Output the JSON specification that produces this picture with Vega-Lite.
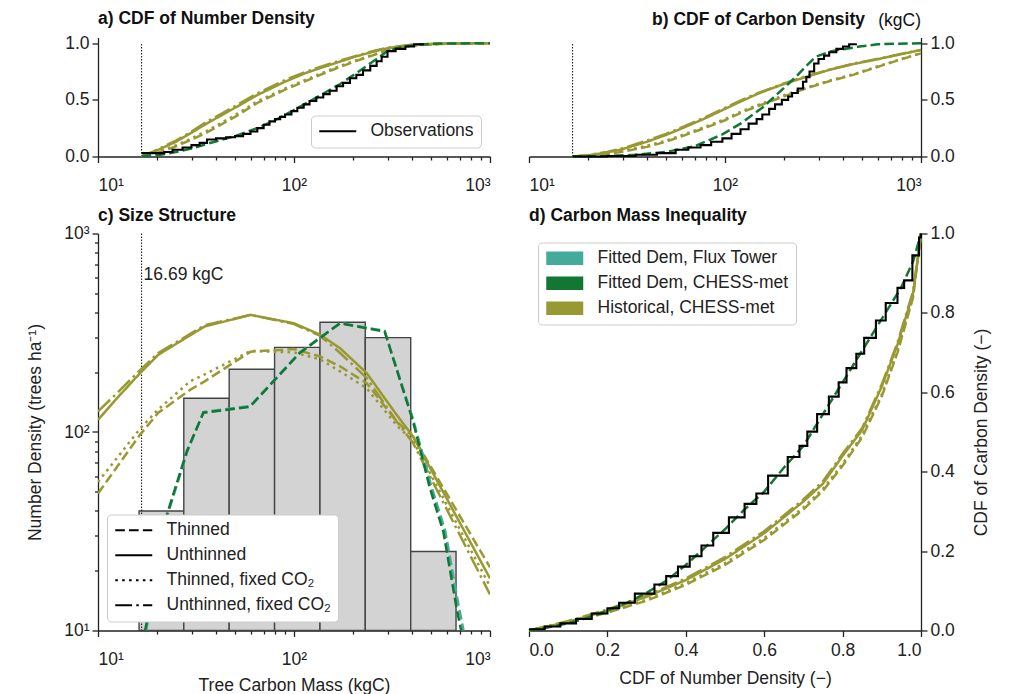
{
  "$schema": "https://vega.github.io/schema/vega-lite/v6.json",
  "padding": {"left": 26, "top": 9.5, "right": 5, "bottom": 2},
  "bounds": "flush",
  "columns": 2,
  "spacing": {"row": 77, "column": 39},
  "resolve": {"legend": {"color": "independent", "strokeDash": "independent"}},
  "config": {
    "font": "Liberation Sans",
    "view": {"stroke": null},
    "axis": {"domainColor": "#222", "domainWidth": 1.3, "tickColor": "#222", "tickWidth": 1.3, "tickSize": 6, "labelFontSize": 17.5, "labelColor": "#222", "labelFont": "Liberation Sans", "titleFont": "Liberation Sans", "titleFontSize": 17.5, "titleFontWeight": "normal", "titleColor": "#222", "grid": false, "labelPadding": 4},
    "legend": {"labelFontSize": 17.5, "labelColor": "#222", "labelFont": "Liberation Sans", "labelLimit": 400, "strokeColor": "#cccccc", "fillColor": "white", "cornerRadius": 4, "padding": 7, "rowPadding": 6, "labelOffset": 24, "symbolOffset": 11},
    "title": {"fontSize": 17.5, "fontWeight": "bold", "font": "Liberation Sans", "color": "#111", "anchor": "start", "baseline": "alphabetic", "offset": 11.5, "frame": "group"}
  },
  "datasets": {
    "a_lines": [
      {"src": "Historical, CHESS-met", "mgmt": "Unthinned", "x": 16.69, "y": 0},
      {"src": "Historical, CHESS-met", "mgmt": "Unthinned", "x": 19.2, "y": 0.04},
      {"src": "Historical, CHESS-met", "mgmt": "Unthinned", "x": 25, "y": 0.13},
      {"src": "Historical, CHESS-met", "mgmt": "Unthinned", "x": 30, "y": 0.21},
      {"src": "Historical, CHESS-met", "mgmt": "Unthinned", "x": 35.8, "y": 0.29},
      {"src": "Historical, CHESS-met", "mgmt": "Unthinned", "x": 50, "y": 0.43},
      {"src": "Historical, CHESS-met", "mgmt": "Unthinned", "x": 64.6, "y": 0.54},
      {"src": "Historical, CHESS-met", "mgmt": "Unthinned", "x": 90, "y": 0.66},
      {"src": "Historical, CHESS-met", "mgmt": "Unthinned", "x": 116, "y": 0.74},
      {"src": "Historical, CHESS-met", "mgmt": "Unthinned", "x": 160, "y": 0.82},
      {"src": "Historical, CHESS-met", "mgmt": "Unthinned", "x": 209, "y": 0.885},
      {"src": "Historical, CHESS-met", "mgmt": "Unthinned", "x": 260, "y": 0.93},
      {"src": "Historical, CHESS-met", "mgmt": "Unthinned", "x": 309, "y": 0.96},
      {"src": "Historical, CHESS-met", "mgmt": "Unthinned", "x": 400, "y": 0.985},
      {"src": "Historical, CHESS-met", "mgmt": "Unthinned", "x": 600, "y": 0.997},
      {"src": "Historical, CHESS-met", "mgmt": "Unthinned", "x": 1000, "y": 1.0},
      {"src": "Historical, CHESS-met", "mgmt": "Unthinned, fixed CO₂", "x": 16.69, "y": 0},
      {"src": "Historical, CHESS-met", "mgmt": "Unthinned, fixed CO₂", "x": 19.2, "y": 0.045},
      {"src": "Historical, CHESS-met", "mgmt": "Unthinned, fixed CO₂", "x": 25, "y": 0.14},
      {"src": "Historical, CHESS-met", "mgmt": "Unthinned, fixed CO₂", "x": 30, "y": 0.22},
      {"src": "Historical, CHESS-met", "mgmt": "Unthinned, fixed CO₂", "x": 35.8, "y": 0.305},
      {"src": "Historical, CHESS-met", "mgmt": "Unthinned, fixed CO₂", "x": 50, "y": 0.445},
      {"src": "Historical, CHESS-met", "mgmt": "Unthinned, fixed CO₂", "x": 64.6, "y": 0.555},
      {"src": "Historical, CHESS-met", "mgmt": "Unthinned, fixed CO₂", "x": 90, "y": 0.675},
      {"src": "Historical, CHESS-met", "mgmt": "Unthinned, fixed CO₂", "x": 116, "y": 0.75},
      {"src": "Historical, CHESS-met", "mgmt": "Unthinned, fixed CO₂", "x": 160, "y": 0.83},
      {"src": "Historical, CHESS-met", "mgmt": "Unthinned, fixed CO₂", "x": 209, "y": 0.89},
      {"src": "Historical, CHESS-met", "mgmt": "Unthinned, fixed CO₂", "x": 260, "y": 0.935},
      {"src": "Historical, CHESS-met", "mgmt": "Unthinned, fixed CO₂", "x": 309, "y": 0.963},
      {"src": "Historical, CHESS-met", "mgmt": "Unthinned, fixed CO₂", "x": 400, "y": 0.987},
      {"src": "Historical, CHESS-met", "mgmt": "Unthinned, fixed CO₂", "x": 600, "y": 0.997},
      {"src": "Historical, CHESS-met", "mgmt": "Unthinned, fixed CO₂", "x": 1000, "y": 1.0},
      {"src": "Historical, CHESS-met", "mgmt": "Thinned", "x": 16.69, "y": 0},
      {"src": "Historical, CHESS-met", "mgmt": "Thinned", "x": 20, "y": 0.03},
      {"src": "Historical, CHESS-met", "mgmt": "Thinned", "x": 25, "y": 0.09},
      {"src": "Historical, CHESS-met", "mgmt": "Thinned", "x": 30, "y": 0.15},
      {"src": "Historical, CHESS-met", "mgmt": "Thinned", "x": 35.8, "y": 0.21},
      {"src": "Historical, CHESS-met", "mgmt": "Thinned", "x": 50, "y": 0.35},
      {"src": "Historical, CHESS-met", "mgmt": "Thinned", "x": 64.6, "y": 0.47},
      {"src": "Historical, CHESS-met", "mgmt": "Thinned", "x": 90, "y": 0.59},
      {"src": "Historical, CHESS-met", "mgmt": "Thinned", "x": 116, "y": 0.67},
      {"src": "Historical, CHESS-met", "mgmt": "Thinned", "x": 160, "y": 0.77},
      {"src": "Historical, CHESS-met", "mgmt": "Thinned", "x": 209, "y": 0.845},
      {"src": "Historical, CHESS-met", "mgmt": "Thinned", "x": 260, "y": 0.9},
      {"src": "Historical, CHESS-met", "mgmt": "Thinned", "x": 309, "y": 0.945},
      {"src": "Historical, CHESS-met", "mgmt": "Thinned", "x": 400, "y": 0.98},
      {"src": "Historical, CHESS-met", "mgmt": "Thinned", "x": 600, "y": 0.995},
      {"src": "Historical, CHESS-met", "mgmt": "Thinned", "x": 1000, "y": 1.0},
      {"src": "Historical, CHESS-met", "mgmt": "Thinned, fixed CO₂", "x": 16.69, "y": 0},
      {"src": "Historical, CHESS-met", "mgmt": "Thinned, fixed CO₂", "x": 20, "y": 0.035},
      {"src": "Historical, CHESS-met", "mgmt": "Thinned, fixed CO₂", "x": 25, "y": 0.1},
      {"src": "Historical, CHESS-met", "mgmt": "Thinned, fixed CO₂", "x": 30, "y": 0.16},
      {"src": "Historical, CHESS-met", "mgmt": "Thinned, fixed CO₂", "x": 35.8, "y": 0.225},
      {"src": "Historical, CHESS-met", "mgmt": "Thinned, fixed CO₂", "x": 50, "y": 0.365},
      {"src": "Historical, CHESS-met", "mgmt": "Thinned, fixed CO₂", "x": 64.6, "y": 0.485},
      {"src": "Historical, CHESS-met", "mgmt": "Thinned, fixed CO₂", "x": 90, "y": 0.6},
      {"src": "Historical, CHESS-met", "mgmt": "Thinned, fixed CO₂", "x": 116, "y": 0.68},
      {"src": "Historical, CHESS-met", "mgmt": "Thinned, fixed CO₂", "x": 160, "y": 0.78},
      {"src": "Historical, CHESS-met", "mgmt": "Thinned, fixed CO₂", "x": 209, "y": 0.85},
      {"src": "Historical, CHESS-met", "mgmt": "Thinned, fixed CO₂", "x": 260, "y": 0.905},
      {"src": "Historical, CHESS-met", "mgmt": "Thinned, fixed CO₂", "x": 309, "y": 0.948},
      {"src": "Historical, CHESS-met", "mgmt": "Thinned, fixed CO₂", "x": 400, "y": 0.981},
      {"src": "Historical, CHESS-met", "mgmt": "Thinned, fixed CO₂", "x": 600, "y": 0.995},
      {"src": "Historical, CHESS-met", "mgmt": "Thinned, fixed CO₂", "x": 1000, "y": 1.0},
      {"src": "Fitted Dem, CHESS-met", "mgmt": "Thinned", "x": 16.69, "y": 0},
      {"src": "Fitted Dem, CHESS-met", "mgmt": "Thinned", "x": 20, "y": 0.01},
      {"src": "Fitted Dem, CHESS-met", "mgmt": "Thinned", "x": 25, "y": 0.04},
      {"src": "Fitted Dem, CHESS-met", "mgmt": "Thinned", "x": 30, "y": 0.07},
      {"src": "Fitted Dem, CHESS-met", "mgmt": "Thinned", "x": 35.8, "y": 0.11},
      {"src": "Fitted Dem, CHESS-met", "mgmt": "Thinned", "x": 50, "y": 0.18},
      {"src": "Fitted Dem, CHESS-met", "mgmt": "Thinned", "x": 64.6, "y": 0.25},
      {"src": "Fitted Dem, CHESS-met", "mgmt": "Thinned", "x": 80, "y": 0.32},
      {"src": "Fitted Dem, CHESS-met", "mgmt": "Thinned", "x": 100, "y": 0.41},
      {"src": "Fitted Dem, CHESS-met", "mgmt": "Thinned", "x": 130, "y": 0.52},
      {"src": "Fitted Dem, CHESS-met", "mgmt": "Thinned", "x": 172, "y": 0.64},
      {"src": "Fitted Dem, CHESS-met", "mgmt": "Thinned", "x": 210, "y": 0.74},
      {"src": "Fitted Dem, CHESS-met", "mgmt": "Thinned", "x": 264, "y": 0.86},
      {"src": "Fitted Dem, CHESS-met", "mgmt": "Thinned", "x": 300, "y": 0.93},
      {"src": "Fitted Dem, CHESS-met", "mgmt": "Thinned", "x": 350, "y": 0.965},
      {"src": "Fitted Dem, CHESS-met", "mgmt": "Thinned", "x": 400, "y": 0.98},
      {"src": "Fitted Dem, CHESS-met", "mgmt": "Thinned", "x": 500, "y": 0.995},
      {"src": "Fitted Dem, CHESS-met", "mgmt": "Thinned", "x": 1000, "y": 1.0}
    ],
    "a_obs": [
      {"src": "Observations", "x": 16.69, "y": 0.03}, {"src": "Observations", "x": 21.8, "y": 0.04},
      {"src": "Observations", "x": 24, "y": 0.06}, {"src": "Observations", "x": 27, "y": 0.08},
      {"src": "Observations", "x": 30, "y": 0.1}, {"src": "Observations", "x": 33, "y": 0.12},
      {"src": "Observations", "x": 36, "y": 0.15}, {"src": "Observations", "x": 40, "y": 0.16},
      {"src": "Observations", "x": 45, "y": 0.17}, {"src": "Observations", "x": 50, "y": 0.18},
      {"src": "Observations", "x": 55, "y": 0.2}, {"src": "Observations", "x": 60, "y": 0.22},
      {"src": "Observations", "x": 65, "y": 0.25}, {"src": "Observations", "x": 70, "y": 0.28},
      {"src": "Observations", "x": 75, "y": 0.31}, {"src": "Observations", "x": 80, "y": 0.33},
      {"src": "Observations", "x": 85, "y": 0.35}, {"src": "Observations", "x": 90, "y": 0.37},
      {"src": "Observations", "x": 97, "y": 0.4}, {"src": "Observations", "x": 104, "y": 0.43},
      {"src": "Observations", "x": 112, "y": 0.46}, {"src": "Observations", "x": 120, "y": 0.49},
      {"src": "Observations", "x": 130, "y": 0.52}, {"src": "Observations", "x": 141, "y": 0.55},
      {"src": "Observations", "x": 152, "y": 0.58}, {"src": "Observations", "x": 165, "y": 0.62},
      {"src": "Observations", "x": 178, "y": 0.65}, {"src": "Observations", "x": 193, "y": 0.69},
      {"src": "Observations", "x": 208, "y": 0.72}, {"src": "Observations", "x": 225, "y": 0.76},
      {"src": "Observations", "x": 245, "y": 0.8}, {"src": "Observations", "x": 264, "y": 0.84},
      {"src": "Observations", "x": 280, "y": 0.88}, {"src": "Observations", "x": 300, "y": 0.93},
      {"src": "Observations", "x": 330, "y": 0.95}, {"src": "Observations", "x": 370, "y": 0.97},
      {"src": "Observations", "x": 410, "y": 0.99}, {"src": "Observations", "x": 455, "y": 1.0}
    ],
    "b_lines": [
      {"src": "Historical, CHESS-met", "mgmt": "Unthinned", "x": 16.69, "y": 0},
      {"src": "Historical, CHESS-met", "mgmt": "Unthinned", "x": 20, "y": 0.01},
      {"src": "Historical, CHESS-met", "mgmt": "Unthinned", "x": 25, "y": 0.035},
      {"src": "Historical, CHESS-met", "mgmt": "Unthinned", "x": 30, "y": 0.065},
      {"src": "Historical, CHESS-met", "mgmt": "Unthinned", "x": 40, "y": 0.13},
      {"src": "Historical, CHESS-met", "mgmt": "Unthinned", "x": 50, "y": 0.19},
      {"src": "Historical, CHESS-met", "mgmt": "Unthinned", "x": 60.6, "y": 0.25},
      {"src": "Historical, CHESS-met", "mgmt": "Unthinned", "x": 80, "y": 0.34},
      {"src": "Historical, CHESS-met", "mgmt": "Unthinned", "x": 100, "y": 0.42},
      {"src": "Historical, CHESS-met", "mgmt": "Unthinned", "x": 122, "y": 0.49},
      {"src": "Historical, CHESS-met", "mgmt": "Unthinned", "x": 150, "y": 0.56},
      {"src": "Historical, CHESS-met", "mgmt": "Unthinned", "x": 200, "y": 0.64},
      {"src": "Historical, CHESS-met", "mgmt": "Unthinned", "x": 268, "y": 0.71},
      {"src": "Historical, CHESS-met", "mgmt": "Unthinned", "x": 350, "y": 0.77},
      {"src": "Historical, CHESS-met", "mgmt": "Unthinned", "x": 450, "y": 0.815},
      {"src": "Historical, CHESS-met", "mgmt": "Unthinned", "x": 588, "y": 0.855},
      {"src": "Historical, CHESS-met", "mgmt": "Unthinned", "x": 800, "y": 0.905},
      {"src": "Historical, CHESS-met", "mgmt": "Unthinned", "x": 1000, "y": 0.94},
      {"src": "Historical, CHESS-met", "mgmt": "Unthinned, fixed CO₂", "x": 16.69, "y": 0},
      {"src": "Historical, CHESS-met", "mgmt": "Unthinned, fixed CO₂", "x": 20, "y": 0.012},
      {"src": "Historical, CHESS-met", "mgmt": "Unthinned, fixed CO₂", "x": 25, "y": 0.04},
      {"src": "Historical, CHESS-met", "mgmt": "Unthinned, fixed CO₂", "x": 30, "y": 0.072},
      {"src": "Historical, CHESS-met", "mgmt": "Unthinned, fixed CO₂", "x": 40, "y": 0.14},
      {"src": "Historical, CHESS-met", "mgmt": "Unthinned, fixed CO₂", "x": 50, "y": 0.2},
      {"src": "Historical, CHESS-met", "mgmt": "Unthinned, fixed CO₂", "x": 60.6, "y": 0.26},
      {"src": "Historical, CHESS-met", "mgmt": "Unthinned, fixed CO₂", "x": 80, "y": 0.35},
      {"src": "Historical, CHESS-met", "mgmt": "Unthinned, fixed CO₂", "x": 100, "y": 0.43},
      {"src": "Historical, CHESS-met", "mgmt": "Unthinned, fixed CO₂", "x": 122, "y": 0.5},
      {"src": "Historical, CHESS-met", "mgmt": "Unthinned, fixed CO₂", "x": 150, "y": 0.565},
      {"src": "Historical, CHESS-met", "mgmt": "Unthinned, fixed CO₂", "x": 200, "y": 0.645},
      {"src": "Historical, CHESS-met", "mgmt": "Unthinned, fixed CO₂", "x": 268, "y": 0.715},
      {"src": "Historical, CHESS-met", "mgmt": "Unthinned, fixed CO₂", "x": 350, "y": 0.772},
      {"src": "Historical, CHESS-met", "mgmt": "Unthinned, fixed CO₂", "x": 450, "y": 0.818},
      {"src": "Historical, CHESS-met", "mgmt": "Unthinned, fixed CO₂", "x": 588, "y": 0.858},
      {"src": "Historical, CHESS-met", "mgmt": "Unthinned, fixed CO₂", "x": 800, "y": 0.906},
      {"src": "Historical, CHESS-met", "mgmt": "Unthinned, fixed CO₂", "x": 1000, "y": 0.94},
      {"src": "Historical, CHESS-met", "mgmt": "Thinned", "x": 16.69, "y": 0},
      {"src": "Historical, CHESS-met", "mgmt": "Thinned", "x": 20, "y": 0.005},
      {"src": "Historical, CHESS-met", "mgmt": "Thinned", "x": 25, "y": 0.02},
      {"src": "Historical, CHESS-met", "mgmt": "Thinned", "x": 30, "y": 0.042},
      {"src": "Historical, CHESS-met", "mgmt": "Thinned", "x": 40, "y": 0.085},
      {"src": "Historical, CHESS-met", "mgmt": "Thinned", "x": 50, "y": 0.13},
      {"src": "Historical, CHESS-met", "mgmt": "Thinned", "x": 60.6, "y": 0.18},
      {"src": "Historical, CHESS-met", "mgmt": "Thinned", "x": 80, "y": 0.255},
      {"src": "Historical, CHESS-met", "mgmt": "Thinned", "x": 100, "y": 0.32},
      {"src": "Historical, CHESS-met", "mgmt": "Thinned", "x": 122, "y": 0.39},
      {"src": "Historical, CHESS-met", "mgmt": "Thinned", "x": 150, "y": 0.45},
      {"src": "Historical, CHESS-met", "mgmt": "Thinned", "x": 200, "y": 0.53},
      {"src": "Historical, CHESS-met", "mgmt": "Thinned", "x": 268, "y": 0.61},
      {"src": "Historical, CHESS-met", "mgmt": "Thinned", "x": 350, "y": 0.67},
      {"src": "Historical, CHESS-met", "mgmt": "Thinned", "x": 450, "y": 0.72},
      {"src": "Historical, CHESS-met", "mgmt": "Thinned", "x": 588, "y": 0.785},
      {"src": "Historical, CHESS-met", "mgmt": "Thinned", "x": 800, "y": 0.86},
      {"src": "Historical, CHESS-met", "mgmt": "Thinned", "x": 1000, "y": 0.91},
      {"src": "Historical, CHESS-met", "mgmt": "Thinned, fixed CO₂", "x": 16.69, "y": 0},
      {"src": "Historical, CHESS-met", "mgmt": "Thinned, fixed CO₂", "x": 20, "y": 0.006},
      {"src": "Historical, CHESS-met", "mgmt": "Thinned, fixed CO₂", "x": 25, "y": 0.024},
      {"src": "Historical, CHESS-met", "mgmt": "Thinned, fixed CO₂", "x": 30, "y": 0.048},
      {"src": "Historical, CHESS-met", "mgmt": "Thinned, fixed CO₂", "x": 40, "y": 0.095},
      {"src": "Historical, CHESS-met", "mgmt": "Thinned, fixed CO₂", "x": 50, "y": 0.14},
      {"src": "Historical, CHESS-met", "mgmt": "Thinned, fixed CO₂", "x": 60.6, "y": 0.19},
      {"src": "Historical, CHESS-met", "mgmt": "Thinned, fixed CO₂", "x": 80, "y": 0.265},
      {"src": "Historical, CHESS-met", "mgmt": "Thinned, fixed CO₂", "x": 100, "y": 0.33},
      {"src": "Historical, CHESS-met", "mgmt": "Thinned, fixed CO₂", "x": 122, "y": 0.4},
      {"src": "Historical, CHESS-met", "mgmt": "Thinned, fixed CO₂", "x": 150, "y": 0.46},
      {"src": "Historical, CHESS-met", "mgmt": "Thinned, fixed CO₂", "x": 200, "y": 0.54},
      {"src": "Historical, CHESS-met", "mgmt": "Thinned, fixed CO₂", "x": 268, "y": 0.615},
      {"src": "Historical, CHESS-met", "mgmt": "Thinned, fixed CO₂", "x": 350, "y": 0.675},
      {"src": "Historical, CHESS-met", "mgmt": "Thinned, fixed CO₂", "x": 450, "y": 0.725},
      {"src": "Historical, CHESS-met", "mgmt": "Thinned, fixed CO₂", "x": 588, "y": 0.79},
      {"src": "Historical, CHESS-met", "mgmt": "Thinned, fixed CO₂", "x": 800, "y": 0.862},
      {"src": "Historical, CHESS-met", "mgmt": "Thinned, fixed CO₂", "x": 1000, "y": 0.912},
      {"src": "Fitted Dem, CHESS-met", "mgmt": "Thinned", "x": 16.69, "y": 0},
      {"src": "Fitted Dem, CHESS-met", "mgmt": "Thinned", "x": 25, "y": 0.004},
      {"src": "Fitted Dem, CHESS-met", "mgmt": "Thinned", "x": 35, "y": 0.015},
      {"src": "Fitted Dem, CHESS-met", "mgmt": "Thinned", "x": 50, "y": 0.04},
      {"src": "Fitted Dem, CHESS-met", "mgmt": "Thinned", "x": 70, "y": 0.09},
      {"src": "Fitted Dem, CHESS-met", "mgmt": "Thinned", "x": 97, "y": 0.195},
      {"src": "Fitted Dem, CHESS-met", "mgmt": "Thinned", "x": 120, "y": 0.29},
      {"src": "Fitted Dem, CHESS-met", "mgmt": "Thinned", "x": 155, "y": 0.43},
      {"src": "Fitted Dem, CHESS-met", "mgmt": "Thinned", "x": 190, "y": 0.57},
      {"src": "Fitted Dem, CHESS-met", "mgmt": "Thinned", "x": 229, "y": 0.7},
      {"src": "Fitted Dem, CHESS-met", "mgmt": "Thinned", "x": 260, "y": 0.8},
      {"src": "Fitted Dem, CHESS-met", "mgmt": "Thinned", "x": 290, "y": 0.88},
      {"src": "Fitted Dem, CHESS-met", "mgmt": "Thinned", "x": 350, "y": 0.93},
      {"src": "Fitted Dem, CHESS-met", "mgmt": "Thinned", "x": 485, "y": 0.97},
      {"src": "Fitted Dem, CHESS-met", "mgmt": "Thinned", "x": 600, "y": 0.99},
      {"src": "Fitted Dem, CHESS-met", "mgmt": "Thinned", "x": 1000, "y": 1.0}
    ],
    "b_obs": [
      {"src": "Observations", "x": 16.69, "y": 0}, {"src": "Observations", "x": 25, "y": 0.005},
      {"src": "Observations", "x": 35, "y": 0.015}, {"src": "Observations", "x": 45, "y": 0.03},
      {"src": "Observations", "x": 56, "y": 0.06}, {"src": "Observations", "x": 65, "y": 0.08},
      {"src": "Observations", "x": 75, "y": 0.1}, {"src": "Observations", "x": 85, "y": 0.13},
      {"src": "Observations", "x": 97, "y": 0.16}, {"src": "Observations", "x": 108, "y": 0.2},
      {"src": "Observations", "x": 120, "y": 0.24}, {"src": "Observations", "x": 132, "y": 0.29},
      {"src": "Observations", "x": 145, "y": 0.33}, {"src": "Observations", "x": 155, "y": 0.37},
      {"src": "Observations", "x": 168, "y": 0.42}, {"src": "Observations", "x": 180, "y": 0.46},
      {"src": "Observations", "x": 195, "y": 0.5}, {"src": "Observations", "x": 210, "y": 0.53},
      {"src": "Observations", "x": 220, "y": 0.56}, {"src": "Observations", "x": 235, "y": 0.6},
      {"src": "Observations", "x": 250, "y": 0.66}, {"src": "Observations", "x": 260, "y": 0.7},
      {"src": "Observations", "x": 270, "y": 0.75}, {"src": "Observations", "x": 285, "y": 0.82},
      {"src": "Observations", "x": 300, "y": 0.86}, {"src": "Observations", "x": 320, "y": 0.89},
      {"src": "Observations", "x": 340, "y": 0.92}, {"src": "Observations", "x": 370, "y": 0.95},
      {"src": "Observations", "x": 400, "y": 0.97}, {"src": "Observations", "x": 430, "y": 0.99},
      {"src": "Observations", "x": 465, "y": 1.0}
    ],
    "c_hist": [
      {"lo": 16.2, "hi": 27.4, "n": 40},
      {"lo": 27.4, "hi": 46.7, "n": 148},
      {"lo": 46.7, "hi": 79.6, "n": 207},
      {"lo": 79.6, "hi": 135.7, "n": 267},
      {"lo": 135.7, "hi": 231, "n": 357},
      {"lo": 231, "hi": 394, "n": 299},
      {"lo": 394, "hi": 671, "n": 25}
    ],
    "c_lines": [
      {"src": "Historical, CHESS-met", "mgmt": "Unthinned", "x": 10, "y": 115},
      {"src": "Historical, CHESS-met", "mgmt": "Unthinned", "x": 12.5, "y": 148},
      {"src": "Historical, CHESS-met", "mgmt": "Unthinned", "x": 16.4, "y": 198},
      {"src": "Historical, CHESS-met", "mgmt": "Unthinned", "x": 20.3, "y": 245},
      {"src": "Historical, CHESS-met", "mgmt": "Unthinned", "x": 35, "y": 340},
      {"src": "Historical, CHESS-met", "mgmt": "Unthinned", "x": 60, "y": 389},
      {"src": "Historical, CHESS-met", "mgmt": "Unthinned", "x": 100, "y": 353},
      {"src": "Historical, CHESS-met", "mgmt": "Unthinned", "x": 136, "y": 309},
      {"src": "Historical, CHESS-met", "mgmt": "Unthinned", "x": 172, "y": 264},
      {"src": "Historical, CHESS-met", "mgmt": "Unthinned", "x": 235, "y": 198},
      {"src": "Historical, CHESS-met", "mgmt": "Unthinned", "x": 334, "y": 122},
      {"src": "Historical, CHESS-met", "mgmt": "Unthinned", "x": 405, "y": 95},
      {"src": "Historical, CHESS-met", "mgmt": "Unthinned", "x": 1000, "y": 18.3},
      {"src": "Historical, CHESS-met", "mgmt": "Unthinned, fixed CO₂", "x": 10, "y": 127},
      {"src": "Historical, CHESS-met", "mgmt": "Unthinned, fixed CO₂", "x": 12.5, "y": 157},
      {"src": "Historical, CHESS-met", "mgmt": "Unthinned, fixed CO₂", "x": 16.4, "y": 205},
      {"src": "Historical, CHESS-met", "mgmt": "Unthinned, fixed CO₂", "x": 20.3, "y": 250},
      {"src": "Historical, CHESS-met", "mgmt": "Unthinned, fixed CO₂", "x": 35, "y": 345},
      {"src": "Historical, CHESS-met", "mgmt": "Unthinned, fixed CO₂", "x": 60, "y": 389},
      {"src": "Historical, CHESS-met", "mgmt": "Unthinned, fixed CO₂", "x": 100, "y": 350},
      {"src": "Historical, CHESS-met", "mgmt": "Unthinned, fixed CO₂", "x": 136, "y": 305},
      {"src": "Historical, CHESS-met", "mgmt": "Unthinned, fixed CO₂", "x": 172, "y": 250},
      {"src": "Historical, CHESS-met", "mgmt": "Unthinned, fixed CO₂", "x": 235, "y": 187},
      {"src": "Historical, CHESS-met", "mgmt": "Unthinned, fixed CO₂", "x": 334, "y": 113},
      {"src": "Historical, CHESS-met", "mgmt": "Unthinned, fixed CO₂", "x": 405, "y": 88},
      {"src": "Historical, CHESS-met", "mgmt": "Unthinned, fixed CO₂", "x": 1000, "y": 15.2},
      {"src": "Historical, CHESS-met", "mgmt": "Thinned", "x": 10, "y": 49},
      {"src": "Historical, CHESS-met", "mgmt": "Thinned", "x": 16.4, "y": 97},
      {"src": "Historical, CHESS-met", "mgmt": "Thinned", "x": 20.3, "y": 125},
      {"src": "Historical, CHESS-met", "mgmt": "Thinned", "x": 29.5, "y": 163},
      {"src": "Historical, CHESS-met", "mgmt": "Thinned", "x": 35, "y": 180},
      {"src": "Historical, CHESS-met", "mgmt": "Thinned", "x": 60, "y": 254},
      {"src": "Historical, CHESS-met", "mgmt": "Thinned", "x": 100, "y": 262},
      {"src": "Historical, CHESS-met", "mgmt": "Thinned", "x": 136, "y": 240},
      {"src": "Historical, CHESS-met", "mgmt": "Thinned", "x": 172, "y": 214},
      {"src": "Historical, CHESS-met", "mgmt": "Thinned", "x": 235, "y": 176},
      {"src": "Historical, CHESS-met", "mgmt": "Thinned", "x": 334, "y": 113},
      {"src": "Historical, CHESS-met", "mgmt": "Thinned", "x": 405, "y": 95},
      {"src": "Historical, CHESS-met", "mgmt": "Thinned", "x": 1000, "y": 20.8},
      {"src": "Historical, CHESS-met", "mgmt": "Thinned, fixed CO₂", "x": 10, "y": 56},
      {"src": "Historical, CHESS-met", "mgmt": "Thinned, fixed CO₂", "x": 16.4, "y": 104},
      {"src": "Historical, CHESS-met", "mgmt": "Thinned, fixed CO₂", "x": 20.3, "y": 130},
      {"src": "Historical, CHESS-met", "mgmt": "Thinned, fixed CO₂", "x": 29.5, "y": 180},
      {"src": "Historical, CHESS-met", "mgmt": "Thinned, fixed CO₂", "x": 35, "y": 195},
      {"src": "Historical, CHESS-met", "mgmt": "Thinned, fixed CO₂", "x": 60, "y": 256},
      {"src": "Historical, CHESS-met", "mgmt": "Thinned, fixed CO₂", "x": 100, "y": 252},
      {"src": "Historical, CHESS-met", "mgmt": "Thinned, fixed CO₂", "x": 136, "y": 232},
      {"src": "Historical, CHESS-met", "mgmt": "Thinned, fixed CO₂", "x": 172, "y": 202},
      {"src": "Historical, CHESS-met", "mgmt": "Thinned, fixed CO₂", "x": 235, "y": 166},
      {"src": "Historical, CHESS-met", "mgmt": "Thinned, fixed CO₂", "x": 334, "y": 108},
      {"src": "Historical, CHESS-met", "mgmt": "Thinned, fixed CO₂", "x": 405, "y": 90},
      {"src": "Historical, CHESS-met", "mgmt": "Thinned, fixed CO₂", "x": 1000, "y": 16.7},
      {"src": "Fitted Dem, Flux Tower", "mgmt": "Thinned", "x": 17.6, "y": 10},
      {"src": "Fitted Dem, Flux Tower", "mgmt": "Thinned", "x": 22.6, "y": 38},
      {"src": "Fitted Dem, Flux Tower", "mgmt": "Thinned", "x": 28.6, "y": 80},
      {"src": "Fitted Dem, Flux Tower", "mgmt": "Thinned", "x": 34.5, "y": 126},
      {"src": "Fitted Dem, Flux Tower", "mgmt": "Thinned", "x": 59.6, "y": 135},
      {"src": "Fitted Dem, Flux Tower", "mgmt": "Thinned", "x": 107, "y": 252},
      {"src": "Fitted Dem, Flux Tower", "mgmt": "Thinned", "x": 172, "y": 355},
      {"src": "Fitted Dem, Flux Tower", "mgmt": "Thinned", "x": 290, "y": 323},
      {"src": "Fitted Dem, Flux Tower", "mgmt": "Thinned", "x": 405, "y": 116},
      {"src": "Fitted Dem, Flux Tower", "mgmt": "Thinned", "x": 500, "y": 54},
      {"src": "Fitted Dem, Flux Tower", "mgmt": "Thinned", "x": 590, "y": 32},
      {"src": "Fitted Dem, Flux Tower", "mgmt": "Thinned", "x": 690, "y": 13.5},
      {"src": "Fitted Dem, Flux Tower", "mgmt": "Thinned", "x": 740, "y": 9.5},
      {"src": "Fitted Dem, CHESS-met", "mgmt": "Thinned", "x": 17.4, "y": 10},
      {"src": "Fitted Dem, CHESS-met", "mgmt": "Thinned", "x": 22.4, "y": 38},
      {"src": "Fitted Dem, CHESS-met", "mgmt": "Thinned", "x": 28.4, "y": 80},
      {"src": "Fitted Dem, CHESS-met", "mgmt": "Thinned", "x": 34.5, "y": 125},
      {"src": "Fitted Dem, CHESS-met", "mgmt": "Thinned", "x": 59.6, "y": 134},
      {"src": "Fitted Dem, CHESS-met", "mgmt": "Thinned", "x": 107, "y": 250},
      {"src": "Fitted Dem, CHESS-met", "mgmt": "Thinned", "x": 172, "y": 353},
      {"src": "Fitted Dem, CHESS-met", "mgmt": "Thinned", "x": 290, "y": 321},
      {"src": "Fitted Dem, CHESS-met", "mgmt": "Thinned", "x": 405, "y": 113},
      {"src": "Fitted Dem, CHESS-met", "mgmt": "Thinned", "x": 494, "y": 52},
      {"src": "Fitted Dem, CHESS-met", "mgmt": "Thinned", "x": 578, "y": 31.5},
      {"src": "Fitted Dem, CHESS-met", "mgmt": "Thinned", "x": 676, "y": 12.9},
      {"src": "Fitted Dem, CHESS-met", "mgmt": "Thinned", "x": 720, "y": 9.5}
    ],
    "d_lines": [
      {"src": "Historical, CHESS-met", "mgmt": "Unthinned", "x": 0, "y": 0},
      {"src": "Historical, CHESS-met", "mgmt": "Unthinned", "x": 0.1, "y": 0.022},
      {"src": "Historical, CHESS-met", "mgmt": "Unthinned", "x": 0.2, "y": 0.05},
      {"src": "Historical, CHESS-met", "mgmt": "Unthinned", "x": 0.3, "y": 0.085},
      {"src": "Historical, CHESS-met", "mgmt": "Unthinned", "x": 0.4, "y": 0.127},
      {"src": "Historical, CHESS-met", "mgmt": "Unthinned", "x": 0.5, "y": 0.18},
      {"src": "Historical, CHESS-met", "mgmt": "Unthinned", "x": 0.6, "y": 0.245},
      {"src": "Historical, CHESS-met", "mgmt": "Unthinned", "x": 0.7, "y": 0.325},
      {"src": "Historical, CHESS-met", "mgmt": "Unthinned", "x": 0.75, "y": 0.37},
      {"src": "Historical, CHESS-met", "mgmt": "Unthinned", "x": 0.8, "y": 0.44},
      {"src": "Historical, CHESS-met", "mgmt": "Unthinned", "x": 0.85, "y": 0.505},
      {"src": "Historical, CHESS-met", "mgmt": "Unthinned", "x": 0.9, "y": 0.615},
      {"src": "Historical, CHESS-met", "mgmt": "Unthinned", "x": 0.94, "y": 0.72},
      {"src": "Historical, CHESS-met", "mgmt": "Unthinned", "x": 0.96, "y": 0.785},
      {"src": "Historical, CHESS-met", "mgmt": "Unthinned", "x": 0.98, "y": 0.85},
      {"src": "Historical, CHESS-met", "mgmt": "Unthinned", "x": 1, "y": 1},
      {"src": "Historical, CHESS-met", "mgmt": "Unthinned, fixed CO₂", "x": 0, "y": 0},
      {"src": "Historical, CHESS-met", "mgmt": "Unthinned, fixed CO₂", "x": 0.1, "y": 0.024},
      {"src": "Historical, CHESS-met", "mgmt": "Unthinned, fixed CO₂", "x": 0.2, "y": 0.053},
      {"src": "Historical, CHESS-met", "mgmt": "Unthinned, fixed CO₂", "x": 0.3, "y": 0.088},
      {"src": "Historical, CHESS-met", "mgmt": "Unthinned, fixed CO₂", "x": 0.4, "y": 0.131},
      {"src": "Historical, CHESS-met", "mgmt": "Unthinned, fixed CO₂", "x": 0.5, "y": 0.185},
      {"src": "Historical, CHESS-met", "mgmt": "Unthinned, fixed CO₂", "x": 0.6, "y": 0.25},
      {"src": "Historical, CHESS-met", "mgmt": "Unthinned, fixed CO₂", "x": 0.7, "y": 0.33},
      {"src": "Historical, CHESS-met", "mgmt": "Unthinned, fixed CO₂", "x": 0.75, "y": 0.376},
      {"src": "Historical, CHESS-met", "mgmt": "Unthinned, fixed CO₂", "x": 0.8, "y": 0.445},
      {"src": "Historical, CHESS-met", "mgmt": "Unthinned, fixed CO₂", "x": 0.85, "y": 0.51},
      {"src": "Historical, CHESS-met", "mgmt": "Unthinned, fixed CO₂", "x": 0.9, "y": 0.62},
      {"src": "Historical, CHESS-met", "mgmt": "Unthinned, fixed CO₂", "x": 0.94, "y": 0.725},
      {"src": "Historical, CHESS-met", "mgmt": "Unthinned, fixed CO₂", "x": 0.96, "y": 0.79},
      {"src": "Historical, CHESS-met", "mgmt": "Unthinned, fixed CO₂", "x": 0.98, "y": 0.855},
      {"src": "Historical, CHESS-met", "mgmt": "Unthinned, fixed CO₂", "x": 1, "y": 1},
      {"src": "Historical, CHESS-met", "mgmt": "Thinned", "x": 0, "y": 0},
      {"src": "Historical, CHESS-met", "mgmt": "Thinned", "x": 0.1, "y": 0.02},
      {"src": "Historical, CHESS-met", "mgmt": "Thinned", "x": 0.2, "y": 0.045},
      {"src": "Historical, CHESS-met", "mgmt": "Thinned", "x": 0.3, "y": 0.075},
      {"src": "Historical, CHESS-met", "mgmt": "Thinned", "x": 0.4, "y": 0.115},
      {"src": "Historical, CHESS-met", "mgmt": "Thinned", "x": 0.5, "y": 0.165},
      {"src": "Historical, CHESS-met", "mgmt": "Thinned", "x": 0.6, "y": 0.228},
      {"src": "Historical, CHESS-met", "mgmt": "Thinned", "x": 0.7, "y": 0.305},
      {"src": "Historical, CHESS-met", "mgmt": "Thinned", "x": 0.75, "y": 0.352},
      {"src": "Historical, CHESS-met", "mgmt": "Thinned", "x": 0.8, "y": 0.415},
      {"src": "Historical, CHESS-met", "mgmt": "Thinned", "x": 0.85, "y": 0.487},
      {"src": "Historical, CHESS-met", "mgmt": "Thinned", "x": 0.9, "y": 0.59},
      {"src": "Historical, CHESS-met", "mgmt": "Thinned", "x": 0.94, "y": 0.7},
      {"src": "Historical, CHESS-met", "mgmt": "Thinned", "x": 0.96, "y": 0.77},
      {"src": "Historical, CHESS-met", "mgmt": "Thinned", "x": 0.98, "y": 0.84},
      {"src": "Historical, CHESS-met", "mgmt": "Thinned", "x": 1, "y": 1},
      {"src": "Historical, CHESS-met", "mgmt": "Thinned, fixed CO₂", "x": 0, "y": 0},
      {"src": "Historical, CHESS-met", "mgmt": "Thinned, fixed CO₂", "x": 0.1, "y": 0.021},
      {"src": "Historical, CHESS-met", "mgmt": "Thinned, fixed CO₂", "x": 0.2, "y": 0.047},
      {"src": "Historical, CHESS-met", "mgmt": "Thinned, fixed CO₂", "x": 0.3, "y": 0.078},
      {"src": "Historical, CHESS-met", "mgmt": "Thinned, fixed CO₂", "x": 0.4, "y": 0.119},
      {"src": "Historical, CHESS-met", "mgmt": "Thinned, fixed CO₂", "x": 0.5, "y": 0.17},
      {"src": "Historical, CHESS-met", "mgmt": "Thinned, fixed CO₂", "x": 0.6, "y": 0.233},
      {"src": "Historical, CHESS-met", "mgmt": "Thinned, fixed CO₂", "x": 0.7, "y": 0.31},
      {"src": "Historical, CHESS-met", "mgmt": "Thinned, fixed CO₂", "x": 0.75, "y": 0.357},
      {"src": "Historical, CHESS-met", "mgmt": "Thinned, fixed CO₂", "x": 0.8, "y": 0.42},
      {"src": "Historical, CHESS-met", "mgmt": "Thinned, fixed CO₂", "x": 0.85, "y": 0.492},
      {"src": "Historical, CHESS-met", "mgmt": "Thinned, fixed CO₂", "x": 0.9, "y": 0.595},
      {"src": "Historical, CHESS-met", "mgmt": "Thinned, fixed CO₂", "x": 0.94, "y": 0.705},
      {"src": "Historical, CHESS-met", "mgmt": "Thinned, fixed CO₂", "x": 0.96, "y": 0.775},
      {"src": "Historical, CHESS-met", "mgmt": "Thinned, fixed CO₂", "x": 0.98, "y": 0.845},
      {"src": "Historical, CHESS-met", "mgmt": "Thinned, fixed CO₂", "x": 1, "y": 1},
      {"src": "Fitted Dem, CHESS-met", "mgmt": "Thinned", "x": 0, "y": 0},
      {"src": "Fitted Dem, CHESS-met", "mgmt": "Thinned", "x": 0.05, "y": 0.008},
      {"src": "Fitted Dem, CHESS-met", "mgmt": "Thinned", "x": 0.1, "y": 0.018},
      {"src": "Fitted Dem, CHESS-met", "mgmt": "Thinned", "x": 0.15, "y": 0.032},
      {"src": "Fitted Dem, CHESS-met", "mgmt": "Thinned", "x": 0.2, "y": 0.05},
      {"src": "Fitted Dem, CHESS-met", "mgmt": "Thinned", "x": 0.25, "y": 0.07},
      {"src": "Fitted Dem, CHESS-met", "mgmt": "Thinned", "x": 0.3, "y": 0.095},
      {"src": "Fitted Dem, CHESS-met", "mgmt": "Thinned", "x": 0.35, "y": 0.125},
      {"src": "Fitted Dem, CHESS-met", "mgmt": "Thinned", "x": 0.4, "y": 0.165},
      {"src": "Fitted Dem, CHESS-met", "mgmt": "Thinned", "x": 0.45, "y": 0.21},
      {"src": "Fitted Dem, CHESS-met", "mgmt": "Thinned", "x": 0.5, "y": 0.255},
      {"src": "Fitted Dem, CHESS-met", "mgmt": "Thinned", "x": 0.55, "y": 0.305},
      {"src": "Fitted Dem, CHESS-met", "mgmt": "Thinned", "x": 0.6, "y": 0.35},
      {"src": "Fitted Dem, CHESS-met", "mgmt": "Thinned", "x": 0.65, "y": 0.41},
      {"src": "Fitted Dem, CHESS-met", "mgmt": "Thinned", "x": 0.7, "y": 0.465},
      {"src": "Fitted Dem, CHESS-met", "mgmt": "Thinned", "x": 0.75, "y": 0.545},
      {"src": "Fitted Dem, CHESS-met", "mgmt": "Thinned", "x": 0.8, "y": 0.625},
      {"src": "Fitted Dem, CHESS-met", "mgmt": "Thinned", "x": 0.85, "y": 0.705},
      {"src": "Fitted Dem, CHESS-met", "mgmt": "Thinned", "x": 0.9, "y": 0.785},
      {"src": "Fitted Dem, CHESS-met", "mgmt": "Thinned", "x": 0.95, "y": 0.865},
      {"src": "Fitted Dem, CHESS-met", "mgmt": "Thinned", "x": 0.98, "y": 0.93},
      {"src": "Fitted Dem, CHESS-met", "mgmt": "Thinned", "x": 1, "y": 1}
    ],
    "d_obs": [
      {"src": "Observations", "x": 0, "y": 0.003}, {"src": "Observations", "x": 0.04, "y": 0.01},
      {"src": "Observations", "x": 0.08, "y": 0.018}, {"src": "Observations", "x": 0.12, "y": 0.029},
      {"src": "Observations", "x": 0.16, "y": 0.043}, {"src": "Observations", "x": 0.2, "y": 0.056},
      {"src": "Observations", "x": 0.23, "y": 0.07}, {"src": "Observations", "x": 0.27, "y": 0.093},
      {"src": "Observations", "x": 0.32, "y": 0.116}, {"src": "Observations", "x": 0.35, "y": 0.137},
      {"src": "Observations", "x": 0.38, "y": 0.161}, {"src": "Observations", "x": 0.41, "y": 0.187},
      {"src": "Observations", "x": 0.44, "y": 0.214}, {"src": "Observations", "x": 0.47, "y": 0.246},
      {"src": "Observations", "x": 0.51, "y": 0.285}, {"src": "Observations", "x": 0.55, "y": 0.319},
      {"src": "Observations", "x": 0.58, "y": 0.345}, {"src": "Observations", "x": 0.61, "y": 0.39},
      {"src": "Observations", "x": 0.66, "y": 0.437}, {"src": "Observations", "x": 0.69, "y": 0.465},
      {"src": "Observations", "x": 0.71, "y": 0.501}, {"src": "Observations", "x": 0.735, "y": 0.545},
      {"src": "Observations", "x": 0.765, "y": 0.589}, {"src": "Observations", "x": 0.79, "y": 0.625},
      {"src": "Observations", "x": 0.81, "y": 0.661}, {"src": "Observations", "x": 0.835, "y": 0.697},
      {"src": "Observations", "x": 0.855, "y": 0.737}, {"src": "Observations", "x": 0.885, "y": 0.781},
      {"src": "Observations", "x": 0.91, "y": 0.825}, {"src": "Observations", "x": 0.94, "y": 0.863},
      {"src": "Observations", "x": 0.957, "y": 0.882}, {"src": "Observations", "x": 0.978, "y": 0.945},
      {"src": "Observations", "x": 0.995, "y": 0.99}, {"src": "Observations", "x": 1.0, "y": 1.0}
    ]
  },
  "concat": [
    {
      "width": 392, "height": 119,
      "title": {"text": "a) CDF of Number Density", "frame": "group", "anchor": "start", "dy": 4.5},
      "layer": [
        {
          "data": {"values": [{}]},
          "mark": {"type": "rule", "strokeDash": [1.5, 1.5], "strokeWidth": 1, "color": "#111"},
          "encoding": {
            "x": {"datum": 16.69, "type": "quantitative", "scale": {"type": "log", "domain": [10, 1000], "nice": false},
              "axis": {"title": null, "values": [10, 20, 30, 40, 50, 60, 70, 80, 90, 100, 200, 300, 400, 500, 600, 700, 800, 900, 1000], "labelExpr": "datum.value == 10 ? '10¹' : datum.value == 100 ? '10²' : datum.value == 1000 ? '10³' : ''", "tickSize": {"condition": {"test": "datum.value == 10 || datum.value == 100 || datum.value == 1000", "value": 6}, "value": 3.5}, "labelPadding": 14, "labelOverlap": false}},
            "y": {"datum": 0, "type": "quantitative", "scale": {"domain": [0, 1.05], "nice": false, "zero": false},
              "axis": {"title": null, "values": [0, 0.5, 1], "format": ".1f", "labelPadding": 3}},
            "y2": {"datum": 1.0}
          }
        },
        {
          "data": {"name": "a_lines"},
          "mark": {"type": "line", "strokeWidth": 2.5},
          "encoding": {
            "x": {"field": "x", "type": "quantitative", "scale": {"type": "log", "domain": [10, 1000], "nice": false}},
            "y": {"field": "y", "type": "quantitative", "scale": {"domain": [0, 1.05], "nice": false, "zero": false}},
            "color": {"field": "src", "type": "nominal", "scale": {"domain": ["Fitted Dem, Flux Tower", "Fitted Dem, CHESS-met", "Historical, CHESS-met", "Observations"], "range": ["#44AA99", "#117733", "#999933", "#000000"]},
              "legend": {"values": ["Observations"], "orient": "bottom-right", "offset": 9, "title": null, "symbolType": "M-2.5,0H2.5", "symbolSize": 219, "symbolStrokeWidth": 2.2}},
            "strokeDash": {"field": "mgmt", "type": "nominal", "scale": {"domain": ["Thinned", "Unthinned", "Thinned, fixed CO₂", "Unthinned, fixed CO₂"], "range": [[9.6, 4.2], [1, 0], [2.6, 4.3], [16.8, 4.2, 2.6, 4.2]]}, "legend": null}
          }
        },
        {
          "data": {"name": "a_obs"},
          "mark": {"type": "line", "strokeWidth": 2.1, "interpolate": "step-after"},
          "encoding": {
            "x": {"field": "x", "type": "quantitative", "scale": {"type": "log", "domain": [10, 1000], "nice": false}},
            "y": {"field": "y", "type": "quantitative", "scale": {"domain": [0, 1.05], "nice": false, "zero": false}},
            "color": {"field": "src", "type": "nominal", "scale": {"domain": ["Fitted Dem, Flux Tower", "Fitted Dem, CHESS-met", "Historical, CHESS-met", "Observations"], "range": ["#44AA99", "#117733", "#999933", "#000000"]},
              "legend": {"values": ["Observations"], "orient": "bottom-right", "offset": 9, "title": null, "symbolType": "M-2.5,0H2.5", "symbolSize": 219, "symbolStrokeWidth": 2.2}}
          }
        }
      ]
    },
    {
      "width": 392, "height": 119,
      "title": {"text": "b) CDF of Carbon Density", "anchor": "end", "dx": -56, "dy": 28, "frame": "group"},
      "layer": [
        {
          "data": {"values": [{}]},
          "mark": {"type": "rule", "strokeDash": [1.5, 1.5], "strokeWidth": 1, "color": "#111"},
          "encoding": {
            "x": {"datum": 16.69, "type": "quantitative", "scale": {"type": "log", "domain": [10, 1000], "nice": false},
              "axis": {"title": null, "values": [10, 20, 30, 40, 50, 60, 70, 80, 90, 100, 200, 300, 400, 500, 600, 700, 800, 900, 1000], "labelExpr": "datum.value == 10 ? '10¹' : datum.value == 100 ? '10²' : datum.value == 1000 ? '10³' : ''", "tickSize": {"condition": {"test": "datum.value == 10 || datum.value == 100 || datum.value == 1000", "value": 6}, "value": 3.5}, "labelPadding": 14, "labelOverlap": false}},
            "y": {"datum": 0, "type": "quantitative", "scale": {"domain": [0, 1.05], "nice": false, "zero": false},
              "axis": {"title": null, "orient": "right", "values": [0, 0.5, 1], "format": ".1f", "labelPadding": 3}},
            "y2": {"datum": 1.0}
          }
        },
        {
          "data": {"values": [{}]},
          "mark": {"type": "text", "align": "right", "baseline": "alphabetic", "dy": -11.5, "fontSize": 17.5, "color": "#111"},
          "encoding": {
            "x": {"datum": 1000, "type": "quantitative", "scale": {"type": "log", "domain": [10, 1000], "nice": false}},
            "y": {"datum": 1.05, "type": "quantitative", "scale": {"domain": [0, 1.05], "nice": false, "zero": false}},
            "text": {"value": "(kgC)"}
          }
        },
        {
          "data": {"name": "b_lines"},
          "mark": {"type": "line", "strokeWidth": 2.5},
          "encoding": {
            "x": {"field": "x", "type": "quantitative", "scale": {"type": "log", "domain": [10, 1000], "nice": false}},
            "y": {"field": "y", "type": "quantitative", "scale": {"domain": [0, 1.05], "nice": false, "zero": false}},
            "color": {"field": "src", "type": "nominal", "scale": {"domain": ["Fitted Dem, Flux Tower", "Fitted Dem, CHESS-met", "Historical, CHESS-met", "Observations"], "range": ["#44AA99", "#117733", "#999933", "#000000"]}, "legend": null},
            "strokeDash": {"field": "mgmt", "type": "nominal", "scale": {"domain": ["Thinned", "Unthinned", "Thinned, fixed CO₂", "Unthinned, fixed CO₂"], "range": [[9.6, 4.2], [1, 0], [2.6, 4.3], [16.8, 4.2, 2.6, 4.2]]}, "legend": null}
          }
        },
        {
          "data": {"name": "b_obs"},
          "mark": {"type": "line", "strokeWidth": 2.1, "interpolate": "step-after", "color": "#000000"},
          "encoding": {
            "x": {"field": "x", "type": "quantitative", "scale": {"type": "log", "domain": [10, 1000], "nice": false}},
            "y": {"field": "y", "type": "quantitative", "scale": {"domain": [0, 1.05], "nice": false, "zero": false}}
          }
        }
      ]
    },
    {
      "width": 392, "height": 397,
      "title": {"text": "c) Size Structure", "frame": "group", "anchor": "start", "dy": 11},
      "layer": [
        {
          "data": {"name": "c_hist"},
          "mark": {"type": "rect", "fill": "#d3d3d3", "stroke": "#444444", "strokeWidth": 1.4},
          "encoding": {
            "x": {"field": "lo", "type": "quantitative", "scale": {"type": "log", "domain": [10, 1000], "nice": false},
              "axis": {"title": "Tree Carbon Mass (kgC)", "values": [10, 20, 30, 40, 50, 60, 70, 80, 90, 100, 200, 300, 400, 500, 600, 700, 800, 900, 1000], "labelExpr": "datum.value == 10 ? '10¹' : datum.value == 100 ? '10²' : datum.value == 1000 ? '10³' : ''", "tickSize": {"condition": {"test": "datum.value == 10 || datum.value == 100 || datum.value == 1000", "value": 6}, "value": 3.5}, "labelPadding": 14, "labelOverlap": false, "titlePadding": 8}},
            "x2": {"field": "hi"},
            "y": {"field": "n", "type": "quantitative", "scale": {"type": "log", "domain": [10, 1000], "nice": false},
              "axis": {"title": "Number Density (trees ha⁻¹)", "values": [10, 20, 30, 40, 50, 60, 70, 80, 90, 100, 200, 300, 400, 500, 600, 700, 800, 900, 1000], "labelExpr": "datum.value == 10 ? '10¹' : datum.value == 100 ? '10²' : datum.value == 1000 ? '10³' : ''", "tickSize": {"condition": {"test": "datum.value == 10 || datum.value == 100 || datum.value == 1000", "value": 6}, "value": 3.5}, "labelPadding": 3, "labelOverlap": false, "titlePadding": 19}},
            "y2": {"datum": 10}
          }
        },
        {
          "data": {"values": [{}]},
          "mark": {"type": "rule", "strokeDash": [1.5, 1.5], "strokeWidth": 1, "color": "#111"},
          "encoding": {
            "x": {"datum": 16.69, "type": "quantitative", "scale": {"type": "log", "domain": [10, 1000], "nice": false}}
          }
        },
        {
          "data": {"values": [{}]},
          "mark": {"type": "text", "align": "left", "baseline": "alphabetic", "dx": 2, "fontSize": 17.5, "color": "#222"},
          "encoding": {
            "x": {"datum": 16.69, "type": "quantitative", "scale": {"type": "log", "domain": [10, 1000], "nice": false}},
            "y": {"datum": 586, "type": "quantitative", "scale": {"type": "log", "domain": [10, 1000], "nice": false}},
            "text": {"value": "16.69 kgC"}
          }
        },
        {
          "data": {"name": "c_lines"},
          "mark": {"type": "line", "strokeWidth": 2.5, "clip": true},
          "encoding": {
            "x": {"field": "x", "type": "quantitative", "scale": {"type": "log", "domain": [10, 1000], "nice": false}},
            "y": {"field": "y", "type": "quantitative", "scale": {"type": "log", "domain": [10, 1000], "nice": false}},
            "color": {"field": "src", "type": "nominal", "scale": {"domain": ["Fitted Dem, Flux Tower", "Fitted Dem, CHESS-met", "Historical, CHESS-met", "Observations"], "range": ["#44AA99", "#117733", "#999933", "#000000"]}, "legend": null},
            "strokeDash": {"field": "mgmt", "type": "nominal", "scale": {"domain": ["Thinned", "Unthinned", "Thinned, fixed CO₂", "Unthinned, fixed CO₂"], "range": [[9.6, 4.2], [1, 0], [2.6, 4.3], [16.8, 4.2, 2.6, 4.2]]},
              "legend": {"orient": "bottom-left", "offset": 9, "title": null, "symbolType": "M-2.5,0H2.5", "symbolSize": 219, "symbolStrokeWidth": 2.2, "symbolStrokeColor": "#000000"}}
          }
        }
      ]
    },
    {
      "width": 392, "height": 397,
      "title": {"text": "d) Carbon Mass Inequality", "frame": "group", "anchor": "start", "dy": 11},
      "layer": [
        {
          "data": {"name": "d_lines"},
          "mark": {"type": "line", "strokeWidth": 2.5},
          "encoding": {
            "x": {"field": "x", "type": "quantitative", "scale": {"domain": [0, 1], "nice": false},
              "axis": {"title": "CDF of Number Density (−)", "values": [0, 0.2, 0.4, 0.6, 0.8, 1], "format": ".1f", "labelPadding": 5, "titlePadding": 10}},
            "y": {"field": "y", "type": "quantitative", "scale": {"domain": [0, 1], "nice": false},
              "axis": {"title": "CDF of Carbon Density (−)", "orient": "right", "values": [0, 0.2, 0.4, 0.6, 0.8, 1], "format": ".1f", "labelPadding": 3, "titleAngle": 270, "titleBaseline": "top", "titlePadding": 18}},
            "color": {"field": "src", "type": "nominal", "scale": {"domain": ["Fitted Dem, Flux Tower", "Fitted Dem, CHESS-met", "Historical, CHESS-met", "Observations"], "range": ["#44AA99", "#117733", "#999933", "#000000"]},
              "legend": {"values": ["Fitted Dem, Flux Tower", "Fitted Dem, CHESS-met", "Historical, CHESS-met"], "orient": "top-left", "offset": 9, "title": null, "symbolType": "M-2.5,-0.9H2.5V0.9H-2.5Z", "symbolSize": 219, "symbolStrokeWidth": 0,
                "encode": {"symbols": {"update": {"fill": {"scale": "color", "field": "value"}, "fillOpacity": {"value": 1}, "strokeWidth": {"value": 0}}}}}},
            "strokeDash": {"field": "mgmt", "type": "nominal", "scale": {"domain": ["Thinned", "Unthinned", "Thinned, fixed CO₂", "Unthinned, fixed CO₂"], "range": [[9.6, 4.2], [1, 0], [2.6, 4.3], [16.8, 4.2, 2.6, 4.2]]}, "legend": null}
          }
        },
        {
          "data": {"name": "d_obs"},
          "mark": {"type": "line", "strokeWidth": 2.1, "interpolate": "step-after", "color": "#000000"},
          "encoding": {
            "x": {"field": "x", "type": "quantitative", "scale": {"domain": [0, 1], "nice": false}},
            "y": {"field": "y", "type": "quantitative", "scale": {"domain": [0, 1], "nice": false}}
          }
        }
      ]
    }
  ]
}
